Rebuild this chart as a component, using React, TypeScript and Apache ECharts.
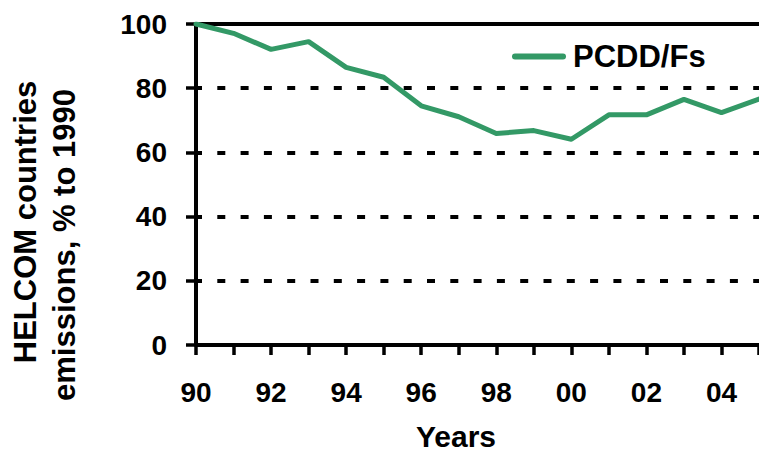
import React, { useEffect, useRef } from "react";
import * as echarts from "echarts";

const years = ["90", "91", "92", "93", "94", "95", "96", "97", "98", "99", "00", "01", "02", "03", "04", "05"];
const pcddValues = [100, 97.1, 92.1, 94.5, 86.5, 83.4, 74.5, 71.1, 65.9, 66.8, 64.1, 71.7, 71.7, 76.5, 72.4, 76.6];
const seriesName = "PCDD/Fs";
const yTitleLines = ["HELCOM countries", "emissions, % to 1990"];
const xTitle = "Years";

const FONT = "'Liberation Sans', Arial, Helvetica, sans-serif";
const GREEN = "#339966";

export default function App() {
  const ref = useRef<HTMLDivElement>(null);
  useEffect(() => {
    if (!ref.current) return;
    const chart = echarts.init(ref.current, undefined, { renderer: "svg" });
    chart.setOption({
      animation: false,
      backgroundColor: "#ffffff",
      textStyle: { fontFamily: FONT },
      grid: { left: 196, top: 24, width: 569, bottom: 106, containLabel: false },
      legend: {
        show: true,
        left: 507,
        top: 36,
        itemWidth: 54,
        itemHeight: 6,
        itemGap: 10,
        data: [
          {
            name: seriesName,
            icon: "path://M3,0 L51,0 A3,3 0 0 1 51,6 L3,6 A3,3 0 0 1 3,0 Z",
            itemStyle: { color: GREEN },
          },
        ],
        textStyle: {
          fontFamily: FONT,
          fontWeight: "bold",
          fontSize: 31,
          color: "#000",
          padding: [0, 0, 0, 2],
        },
      },
      xAxis: [
        {
          type: "category",
          data: years,
          boundaryGap: false,
          axisLine: { show: true, lineStyle: { color: "#000", width: 4 } },
          axisTick: { show: true, interval: 0, length: 10, lineStyle: { color: "#000", width: 3.5 } },
          axisLabel: {
            interval: 1,
            margin: 33,
            color: "#000",
            fontFamily: FONT,
            fontWeight: "bold",
            fontSize: 28,
          },
          splitLine: { show: false },
        },
        {
          type: "category",
          data: years,
          boundaryGap: false,
          position: "top",
          axisLine: { show: true, lineStyle: { color: "#000", width: 4 } },
          axisTick: { show: false },
          axisLabel: { show: false },
          splitLine: { show: false },
        },
      ],
      yAxis: {
        type: "value",
        min: 0,
        max: 100,
        interval: 20,
        axisLine: { show: true, lineStyle: { color: "#000", width: 4 } },
        axisTick: { show: true, length: 10, lineStyle: { color: "#000", width: 3.5 } },
        axisLabel: {
          margin: 29,
          color: "#000",
          fontFamily: FONT,
          fontWeight: "bold",
          fontSize: 28,
        },
        splitLine: {
          show: true,
          lineStyle: { color: "#000", width: 4, type: [8, 15.3], dashOffset: 2 },
        },
      },
      series: [
        {
          name: seriesName,
          type: "line",
          xAxisIndex: 0,
          data: pcddValues,
          symbol: "none",
          showSymbol: false,
          lineStyle: { color: GREEN, width: 5, join: "round", cap: "round" },
          itemStyle: { color: GREEN },
          z: 3,
        },
      ],
      graphic: [
        {
          type: "text",
          x: 25.5,
          y: 222,
          rotation: Math.PI / 2,
          style: {
            text: yTitleLines[0],
            fontFamily: FONT,
            fontWeight: "bold",
            fontSize: 31,
            fill: "#000",
            align: "center",
            verticalAlign: "middle",
          },
        },
        {
          type: "text",
          x: 64,
          y: 245,
          rotation: Math.PI / 2,
          style: {
            text: yTitleLines[1],
            fontFamily: FONT,
            fontWeight: "bold",
            fontSize: 31,
            fill: "#000",
            align: "center",
            verticalAlign: "middle",
          },
        },
        {
          type: "text",
          x: 456,
          y: 436,
          style: {
            text: xTitle,
            fontFamily: FONT,
            fontWeight: "bold",
            fontSize: 30,
            lineHeight: 26,
            fill: "#000",
            align: "center",
            verticalAlign: "middle",
          },
        },
      ],
    });
    return () => chart.dispose();
  }, []);
  return <div ref={ref} style={{ width: 759, height: 451, position: "absolute", left: 0, top: 0 }} />;
}
